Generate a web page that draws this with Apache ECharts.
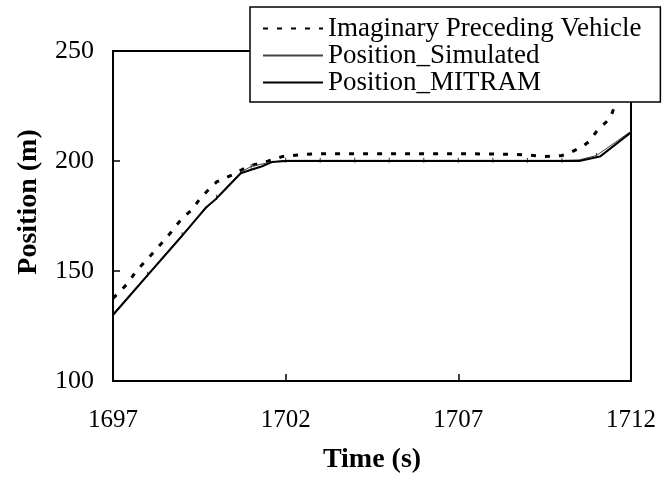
<!DOCTYPE html>
<html>
<head>
    <meta charset="utf-8">
    <title>Position</title>
    <script src="https://cdn.jsdelivr.net/npm/echarts@6/dist/echarts.min.js"></script>
    <style>
        html, body { margin: 0; padding: 0; background: #fff; }
        #chart1 { width: 671px; height: 479px; }
    </style>
</head>
<body>
<div id="chart1"></div>
<script type="text/javascript">
    // data
    var seriesNames = ['Imaginary Preceding Vehicle', 'Position_Simulated', 'Position_MITRAM'];
    var xTicks = [1697, 1702, 1707, 1712];
    var yTicks = [100, 150, 200, 250];

    var timeLead = [1697, 1697.4, 1697.7, 1698, 1698.4, 1698.7, 1699, 1699.3, 1699.5, 1699.8, 1700, 1700.5, 1700.9, 1701.5, 1701.9, 1702.5,
        1703, 1704, 1705, 1706, 1707, 1708, 1709, 1709.5, 1710, 1710.2, 1710.6, 1710.8, 1711, 1711.2, 1711.4, 1711.55, 1711.8, 1712];
    var posLead = [137.5, 144, 150.5, 155.5, 162.5, 168, 174, 178, 182.5, 187.5, 190.5, 194, 197.5, 200, 202, 203,
        203.3, 203.3, 203.3, 203.3, 203.3, 203.2, 202.8, 202, 202.5, 203.5, 206.6, 209, 213.4, 216.5, 219.5, 226, 233, 238];

    var timeSim = [1697, 1698, 1699, 1700, 1700.7, 1701, 1701.5, 1702, 1703, 1704, 1705, 1706, 1707, 1708, 1709, 1710, 1710.5, 1711, 1712];
    var posSim = [130.5, 148.5, 166.5, 183.5, 195, 197.5, 199.3, 200.3, 200.3, 200.3, 200.3, 200.3, 200.3, 200.3, 200.3, 200.3, 200.5, 202.5, 213.5];

    var timeMitram = [1697, 1698, 1699, 1699.7, 1700, 1700.7, 1701, 1701.3, 1701.6, 1702, 1710.5, 1711.1, 1712];
    var posMitram = [130, 148, 166, 179, 183, 194.4, 196, 197.5, 199.5, 200, 200, 202, 213];

    function pairs(xs, ys) {
        return xs.map(function (x, i) { return [x, ys[i]]; });
    }

    var font = 'Liberation Serif';
    var simTicks = pairs(timeSim, posSim).filter(function (p) { return Number.isInteger(p[0]); });

    echarts.init(document.getElementById('chart1')).setOption({
        animation: false,
        backgroundColor: '#fff',
        grid: {
            left: 113, right: 40, top: 51, bottom: 96,
            show: true, borderColor: '#000', borderWidth: 2
        },
        legend: {
            orient: 'vertical',
            left: 250, top: 7,
            data: seriesNames,
            backgroundColor: '#fff',
            borderColor: '#000',
            borderWidth: 1.5,
            padding: [8, 19, 6, 12],
            itemWidth: 60,
            itemHeight: 14,
            itemGap: 0,
            itemStyle: { color: 'rgba(0,0,0,0)', borderWidth: 0, opacity: 0 },
            textStyle: { fontFamily: font, fontSize: 27, color: '#000', lineHeight: 26 }
        },
        xAxis: {
            type: 'value',
            min: xTicks[0], max: xTicks[xTicks.length - 1], interval: 5,
            name: 'Time (s)',
            nameLocation: 'middle',
            nameGap: 65,
            nameTextStyle: { fontFamily: font, fontSize: 28, fontWeight: 'bold', color: '#000' },
            axisLine: { lineStyle: { color: '#000', width: 2 } },
            axisTick: { inside: true, length: 7, lineStyle: { color: '#000', width: 1.5 } },
            axisLabel: { fontFamily: font, fontSize: 25, color: '#000', margin: 27, formatter: function (v) { return String(v); } },
            splitLine: { show: false }
        },
        yAxis: {
            type: 'value',
            min: yTicks[0], max: yTicks[yTicks.length - 1], interval: 50,
            name: 'Position (m)',
            nameLocation: 'middle',
            nameGap: 70,
            nameTextStyle: { fontFamily: font, fontSize: 28, fontWeight: 'bold', color: '#000', padding: [0, 0, 0, 28] },
            axisLine: { lineStyle: { color: '#000', width: 2 } },
            axisTick: { inside: true, length: 7, lineStyle: { color: '#000', width: 1.5 } },
            axisLabel: { fontFamily: font, fontSize: 26, color: '#000', margin: 19 },
            splitLine: { show: false }
        },
        series: [
            {
                name: seriesNames[0],
                type: 'line',
                symbol: 'none',
                data: pairs(timeLead, posLead),
                lineStyle: { color: '#000', width: 3, type: [5, 9] },
                itemStyle: { color: '#000' }
            },
            {
                name: seriesNames[1],
                type: 'line',
                symbol: 'none',
                data: pairs(timeSim, posSim),
                lineStyle: { color: '#444', width: 1 },
                itemStyle: { color: '#444' }
            },
            {
                name: seriesNames[2],
                type: 'line',
                symbol: 'none',
                data: pairs(timeMitram, posMitram),
                lineStyle: { color: '#000', width: 2 },
                itemStyle: { color: '#000' }
            },
            {
                name: 'ticks',
                type: 'scatter',
                symbol: 'rect',
                symbolSize: [1, 5],
                data: simTicks,
                itemStyle: { color: '#000' },
                silent: true
            }
        ]
    });
</script>
</body>
</html>
